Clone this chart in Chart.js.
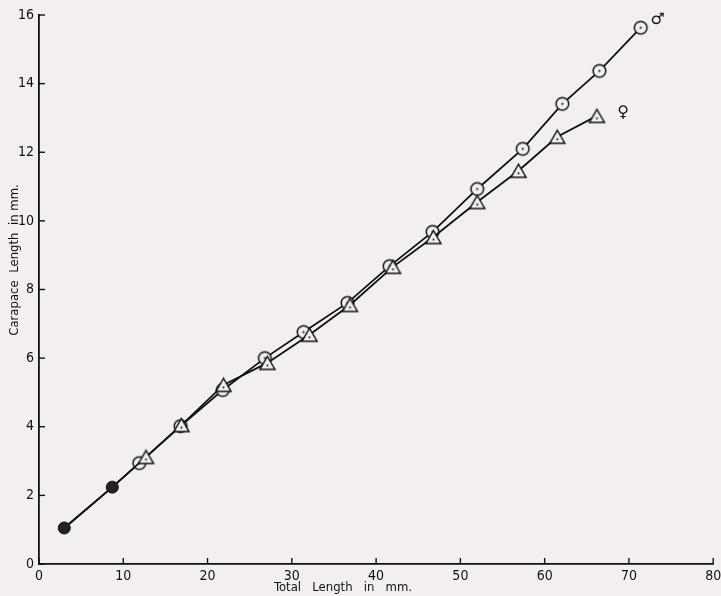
<!DOCTYPE html>
<html>
<head>
<meta charset="utf-8">
<script src="https://cdn.jsdelivr.net/npm/chart.js@4/dist/chart.umd.min.js"></script>
<style>
  body { margin: 0; background: #f3efef; }
  #wrap { width: 721px; height: 596px; }
</style>
</head>
<body>
<div id="wrap"><canvas id="grafico"></canvas></div>
<script>
// datos (largo total vs largo del caparazon, mm)
const juvX = [3.0, 8.7];
const juvY = [1.05, 2.24];
const machoX = [11.9, 16.8, 21.8, 26.8, 31.4, 36.6, 41.6, 46.7, 52.0, 57.4, 62.1, 66.5, 71.4];
const machoY = [2.94, 4.02, 5.07, 6.0, 6.76, 7.61, 8.68, 9.68, 10.93, 12.1, 13.41, 14.37, 15.63];
const hembraX = [12.7, 16.9, 21.9, 27.1, 32.1, 36.9, 42.0, 46.8, 52.0, 56.9, 61.5, 66.2];
const hembraY = [3.12, 4.05, 5.22, 5.86, 6.68, 7.55, 8.66, 9.53, 10.55, 11.46, 12.45, 13.06];
const xTicks = [0, 10, 20, 30, 40, 50, 60, 70, 80];
const yTicks = [0, 2, 4, 6, 8, 10, 12, 14, 16];

const fondo = "#f3efef";
const fuente = "'DejaVu Sans Condensed', 'DejaVu Sans'";
const toPoints = (xs, ys) => xs.map((x, i) => ({ x: x, y: ys[i] }));

// marcador circulo con punto
const circulo = (() => {
  const c = document.createElement("canvas");
  c.width = 17; c.height = 17;
  const g = c.getContext("2d");
  g.beginPath(); g.arc(8.5, 8.5, 6.3, 0, Math.PI * 2);
  g.fillStyle = fondo; g.fill();
  g.lineWidth = 1.5; g.strokeStyle = "#111"; g.stroke();
  g.beginPath(); g.arc(8.5, 8.5, 1.1, 0, Math.PI * 2); g.fillStyle = "#111"; g.fill();
  return c;
})();

// marcador triangulo con punto
const triangulo = (() => {
  const c = document.createElement("canvas");
  c.width = 19; c.height = 17;
  const g = c.getContext("2d");
  g.beginPath(); g.moveTo(9.5, 2); g.lineTo(17, 15); g.lineTo(2, 15); g.closePath();
  g.fillStyle = fondo; g.fill();
  g.lineWidth = 1.5; g.strokeStyle = "#111"; g.stroke();
  g.beginPath(); g.arc(9.5, 11, 1, 0, Math.PI * 2); g.fillStyle = "#111"; g.fill();
  return c;
})();

// ticks hacia adentro, titulos de ejes y simbolos de sexo
const extras = {
  id: "extras",
  afterDraw(chart) {
    const ctx = chart.ctx;
    const xs = chart.scales.x;
    const ys = chart.scales.y;
    ctx.save();
    ctx.strokeStyle = "#111";
    ctx.lineWidth = 1.4;
    xTicks.forEach((v) => {
      const px = xs.getPixelForValue(v);
      ctx.beginPath(); ctx.moveTo(px, ys.bottom); ctx.lineTo(px, ys.bottom - 6); ctx.stroke();
    });
    yTicks.forEach((v) => {
      const py = ys.getPixelForValue(v);
      ctx.beginPath(); ctx.moveTo(xs.left, py); ctx.lineTo(xs.left + 6, py); ctx.stroke();
    });
    ctx.fillStyle = "#111";
    ctx.font = "13px " + fuente;
    ctx.textAlign = "center";
    ctx.textBaseline = "middle";
    ctx.fillText("Total   Length   in   mm.", 343, 588);
    ctx.translate(15, 260);
    ctx.rotate(-Math.PI / 2);
    ctx.fillText("Carapace  Length  in mm.", 0, 0);
    ctx.restore();
    ctx.save();
    ctx.fillStyle = "#111";
    ctx.font = "bold 16px 'DejaVu Sans'";
    ctx.textAlign = "center";
    ctx.textBaseline = "middle";
    ctx.fillText("♂", xs.getPixelForValue(73.4), ys.getPixelForValue(15.86));
    ctx.fillText("♀", xs.getPixelForValue(69.3), ys.getPixelForValue(13.15));
    ctx.restore();
  },
};

const ctx = document.getElementById("grafico");
const grafico = new Chart(ctx, {
  type: "scatter",
  data: {
    datasets: [
      {
        label: "juveniles",
        data: toPoints(juvX, juvY),
        showLine: false,
        pointStyle: "circle",
        pointRadius: 6,
        backgroundColor: "#222",
        borderColor: "#111",
        borderWidth: 1,
        order: 0,
      },
      {
        label: "machos",
        data: toPoints(juvX.concat(machoX), juvY.concat(machoY)),
        showLine: true,
        borderColor: "#111",
        borderWidth: 1.8,
        pointStyle: circulo,
        pointRadius: (c) => (c.dataIndex < juvX.length ? 0 : 6),
        order: 2,
      },
      {
        label: "hembras",
        data: toPoints(juvX.concat(hembraX), juvY.concat(hembraY)),
        showLine: true,
        borderColor: "#111",
        borderWidth: 1.8,
        pointStyle: triangulo,
        pointRadius: (c) => (c.dataIndex < juvX.length ? 0 : 6),
        order: 1,
      },
    ],
  },
  options: {
    responsive: true,
    maintainAspectRatio: false,
    animation: false,
    layout: { padding: { top: 15, right: 2, left: 0, bottom: 0 } },
    plugins: {
      legend: { display: false },
      tooltip: { enabled: false },
    },
    scales: {
      x: {
        type: "linear",
        min: 0,
        max: 80,
        afterBuildTicks: (s) => { s.ticks = xTicks.map((v) => ({ value: v })); },
        afterFit: (s) => { s.height = 32; s.paddingLeft = 0; s.paddingRight = 0; },
        grid: { display: false, drawTicks: false },
        border: { display: true, color: "#111", width: 1.8 },
        ticks: {
          padding: 4,
          color: "#111",
          font: { family: fuente, size: 14 },
        },
      },
      y: {
        type: "linear",
        min: 0,
        max: 16,
        afterBuildTicks: (s) => { s.ticks = yTicks.map((v) => ({ value: v })); },
        afterFit: (s) => { s.width = 39; s.paddingTop = 0; s.paddingBottom = 0; },
        grid: { display: false, drawTicks: false },
        border: { display: true, color: "#111", width: 1.8 },
        ticks: {
          padding: 5,
          color: "#111",
          font: { family: fuente, size: 14 },
        },
      },
    },
  },
  plugins: [extras],
});
</script>
</body>
</html>
